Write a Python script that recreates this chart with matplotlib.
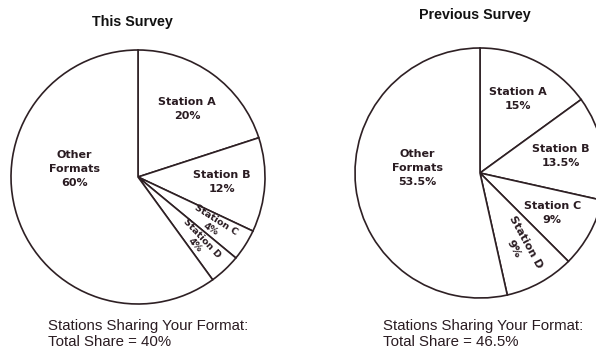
import numpy as np
import matplotlib
matplotlib.use("Agg")
import matplotlib.pyplot as plt

# ---- data ----
categories = ["Station A", "Station B", "Station C", "Station D", "Other\nFormats"]
this_survey = [20, 12, 4, 4, 60]
prev_survey = [15, 13.5, 9, 9, 53.5]
this_labels = ["20%", "12%", "4%", "4%", "60%"]
prev_labels = ["15%", "13.5%", "9%", "9%", "53.5%"]
titles = ["This Survey", "Previous Survey"]
footers = ["Stations Sharing Your Format:\nTotal Share = 40%",
           "Stations Sharing Your Format:\nTotal Share = 46.5%"]

W, H = 596, 350
fig = plt.figure(figsize=(W / 100, H / 100), dpi=100)
fig.patch.set_facecolor("white")

EDGE = "#2e2024"
TXT = "#2a1c22"


def add_pie_axes(cx, cy, r):
    ax = fig.add_axes([(cx - r) / W, (H - cy - r) / H, 2 * r / W, 2 * r / H])
    ax.set_xlim(-1, 1)
    ax.set_ylim(-1, 1)
    ax.axis("off")
    return ax


def draw(ax, values, pcts, rotate, other_pos, small):
    wedges, _ = ax.pie(values, startangle=90, counterclock=False, radius=1,
                       colors=["white"] * len(values),
                       wedgeprops=dict(edgecolor=EDGE, linewidth=1.2),
                       center=(0, 0), frame=False)
    ax.set_xlim(-1, 1)
    ax.set_ylim(-1, 1)
    ax.set_aspect("auto")
    for i, w in enumerate(wedges):
        label = categories[i] + "\n" + pcts[i]
        fs, ls = 8.0, 1.5
        if i == len(wedges) - 1:
            x, y = other_pos
            rot = 0
        else:
            mid = np.deg2rad((w.theta1 + w.theta2) / 2)
            rr = 0.66
            if small[i]:
                rr, fs, ls = 0.70, 6.8, 1.1
            x, y = rr * np.cos(mid), rr * np.sin(mid)
            rot = np.rad2deg(mid) if rotate[i] else 0
        ax.text(x, y, label, ha="center", va="center", rotation=rot,
                rotation_mode="anchor", fontsize=fs, fontweight="bold",
                family="DejaVu Sans", color=TXT, linespacing=ls)


ax1 = add_pie_axes(138, 177, 127)
draw(ax1, this_survey, this_labels, [False, False, True, True], (-0.5, 0.06),
     [False, False, True, True])
ax2 = add_pie_axes(480, 173, 125)
draw(ax2, prev_survey, prev_labels, [False, False, False, True], (-0.5, 0.04),
     [False, False, False, False])

fig.text(132 / W, 1 - 22 / H, titles[0], ha="center", va="center",
         fontsize=10.3, fontweight="bold", family="Liberation Sans", color="#111111")
fig.text(475 / W, 1 - 15 / H, titles[1], ha="center", va="center",
         fontsize=10.3, fontweight="bold", family="Liberation Sans", color="#111111")

fig.text(48 / W, 1 - 334 / H, footers[0], ha="left", va="center",
         fontsize=10.8, family="Liberation Sans", color=TXT, linespacing=1.1)
fig.text(383 / W, 1 - 334 / H, footers[1], ha="left", va="center",
         fontsize=10.8, family="Liberation Sans", color=TXT, linespacing=1.1)

fig.savefig("out.png", dpi=100, facecolor="white")
